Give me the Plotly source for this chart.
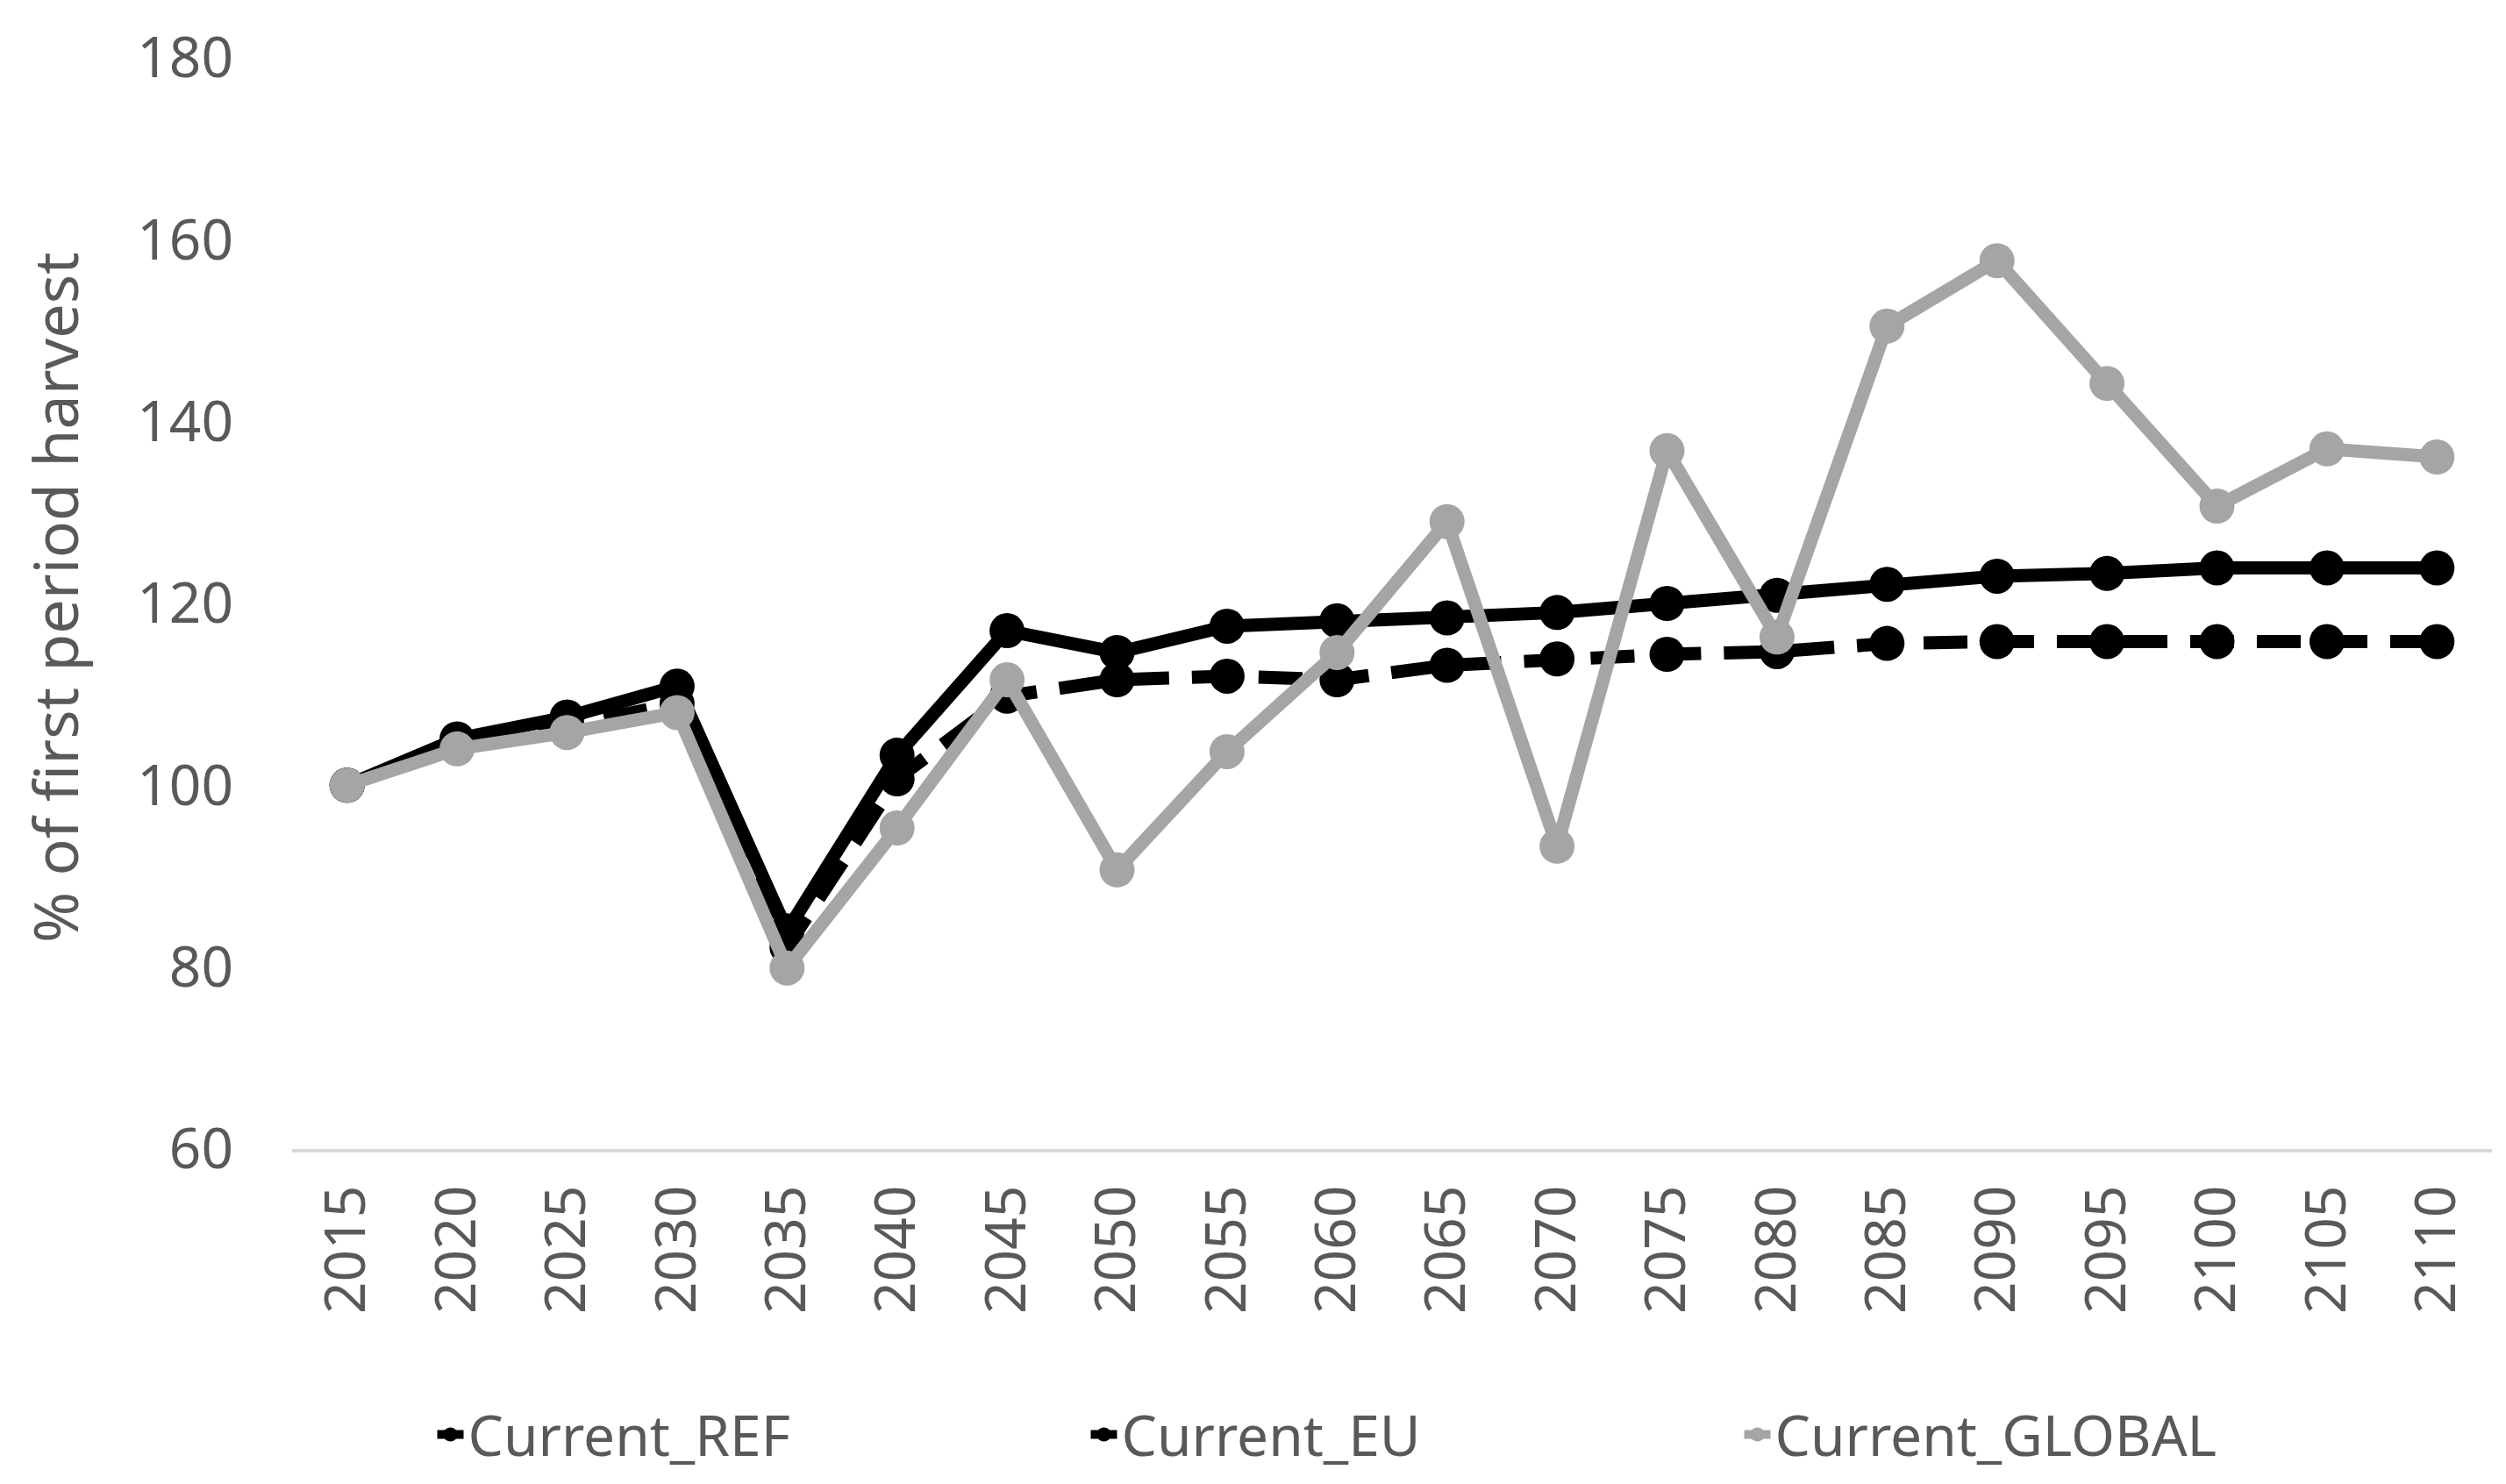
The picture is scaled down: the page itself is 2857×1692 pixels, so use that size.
"""Harvest relative to the first period, three scenarios."""
import plotly.graph_objects as go

# x categories
years = [str(y) for y in range(2015, 2111, 5)]

# % of first period harvest
current_ref = [100, 105.1, 107.5, 110.9, 84.0, 103.3, 117.0, 114.6, 117.5, 118.1,
               118.4, 119.0, 120.0, 120.9, 122.1, 123.0, 123.3, 123.9, 123.9, 123.9]
current_eu = [100, 104.5, 106.5, 109.0, 82.2, 100.7, 109.8, 111.6, 112.0, 111.6,
              113.2, 113.9, 114.4, 114.7, 115.6, 115.8, 115.8, 115.8, 115.8, 115.8]
current_global = [100, 104.0, 105.8, 108.0, 79.9, 95.3, 111.6, 90.7, 103.7, 114.6,
                  129.0, 93.3, 136.8, 116.3, 150.5, 157.7, 144.2, 130.7, 137.0, 136.1]

y_ticks = [60, 80, 100, 120, 140, 160, 180]

TEXT = "#595959"
FONT = "Noto Sans"
LW = 15
MS = 40

fig = go.Figure()

fig.add_trace(go.Scatter(
    x=years, y=current_ref, name="Current_REF", mode="lines+markers",
    line=dict(color="#000000", width=LW),
    marker=dict(color="#000000", size=MS),
))
fig.add_trace(go.Scatter(
    x=years, y=current_eu, name="Current_EU", mode="lines+markers",
    line=dict(color="#000000", width=LW, dash="50px,26px"),
    marker=dict(color="#000000", size=MS),
))
fig.add_trace(go.Scatter(
    x=years, y=current_global, name="Current_GLOBAL", mode="lines+markers",
    line=dict(color="#A5A5A5", width=LW),
    marker=dict(color="#A5A5A5", size=MS),
))

fig.update_layout(
    width=2857,
    height=1692,
    plot_bgcolor="white",
    paper_bgcolor="white",
    font=dict(family=FONT, size=64, color=TEXT),
    margin=dict(l=325, r=24, t=52, b=390),
    showlegend=True,
    legend=dict(
        orientation="h",
        x=0.064, xanchor="left",
        y=-0.262, yanchor="middle",
        entrywidth=700,
        font=dict(family=FONT, size=64, color=TEXT),
        bgcolor="rgba(0,0,0,0)",
    ),
    annotations=[dict(
        text="% of first period harvest",
        xref="paper", yref="paper",
        x=-0.108, y=0.505,
        xanchor="center", yanchor="middle",
        textangle=-90, showarrow=False,
        font=dict(family=FONT, size=70, color=TEXT),
    )],
)

fig.update_xaxes(
    type="category",
    range=[-0.5, len(years) - 0.5],
    tickangle=-90,
    showgrid=False,
    showline=True, linecolor="#D9D9D9", linewidth=4,
    ticks="",
    ticklabelstandoff=12,
    tickfont=dict(family=FONT, size=64, color=TEXT),
)
fig.update_yaxes(
    range=[60, 180],
    tickvals=y_ticks,
    showgrid=False,
    zeroline=False,
    showline=False,
    ticks="",
    ticklabelstandoff=66,
    tickfont=dict(family=FONT, size=64, color=TEXT),
)

fig.write_html("out.html")
